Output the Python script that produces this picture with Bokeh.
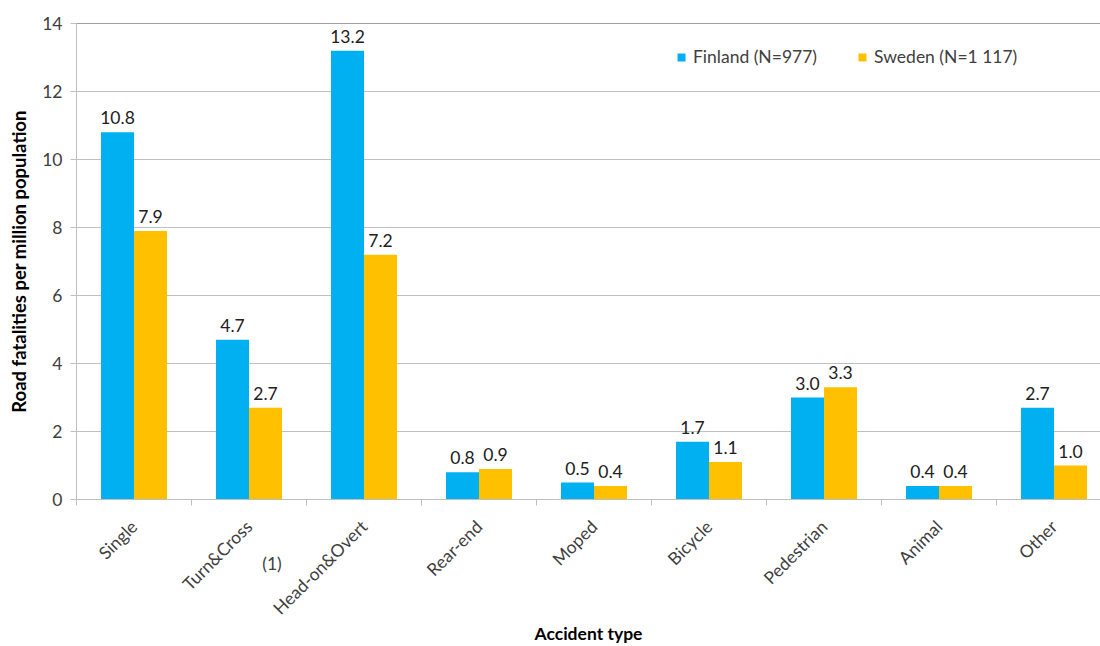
import math
from bokeh.plotting import figure
from bokeh.models import (Range1d, FixedTicker, Span, Legend, LegendItem,
                          LinearAxis, ColumnDataSource)
from bokeh.core.properties import value
from bokeh.embed import file_html
from bokeh.resources import INLINE

# Road fatalities per million population by accident type
categories = ["Single", "Turn&Cross", "Head-on&Overt", "Rear-end", "Moped",
              "Bicycle", "Pedestrian", "Animal", "Other"]
finland = [10.8, 4.7, 13.2, 0.8, 0.5, 1.7, 3.0, 0.4, 2.7]
sweden = [7.9, 2.7, 7.2, 0.9, 0.4, 1.1, 3.3, 0.4, 1.0]
series_names = ["Finland (N=977)", "Sweden (N=1 117)"]
y_ticks = [0, 2, 4, 6, 8, 10, 12, 14]
footnote = "(1)"
footnote_x = 1.7

FONT = "Lato"
BLUE = "#00B0F0"
GOLD = "#FFC000"
TXT = "#404040"
FS = "17.5px"

centers = [i + 0.5 for i in range(len(categories))]
bar_w = 0.287

p = figure(width=1100, height=646, output_backend="svg", toolbar_location=None,
           x_range=Range1d(0, 1024 / 115), y_range=Range1d(0, 14),
           min_border_left=76, min_border_right=0, min_border_top=23,
           min_border_bottom=147)
p.outline_line_color = None
p.background_fill_color = "white"

fin_src = ColumnDataSource(dict(x=[c - bar_w / 2 for c in centers], top=finland,
                                lab=[f"{v:.1f}" for v in finland]))
swe_src = ColumnDataSource(dict(x=[c + bar_w / 2 for c in centers], top=sweden,
                                lab=[f"{v:.1f}" for v in sweden]))

r_fin = p.vbar(x="x", top="top", width=bar_w, source=fin_src, fill_color=BLUE, line_color=None)
r_swe = p.vbar(x="x", top="top", width=bar_w, source=swe_src, fill_color=GOLD, line_color=None)

for src in (fin_src, swe_src):
    p.text(x="x", y="top", text="lab", source=src, y_offset=-8,
           text_align="center", text_baseline="bottom",
           text_font=value(FONT), text_font_size=FS, text_color="#202020")

# top border line of the plot area
p.add_layout(Span(location=14, dimension="width", line_color="#404040", line_width=1))

# grid
p.xgrid.grid_line_color = None
p.ygrid.grid_line_color = "#c0c0c0"
p.ygrid.ticker = FixedTicker(ticks=y_ticks[:-1])

# y axis
p.yaxis.ticker = FixedTicker(ticks=y_ticks)
p.yaxis.axis_line_color = "#bfbfbf"
p.yaxis.major_tick_line_color = "#bfbfbf"
p.yaxis.major_tick_in = 0
p.yaxis.major_tick_out = 6
p.yaxis.minor_tick_line_color = None
p.yaxis.major_label_text_font = FONT
p.yaxis.major_label_text_font_size = FS
p.yaxis.major_label_text_color = TXT
p.yaxis.major_label_standoff = 8
p.yaxis.axis_label = "Road fatalities per million population"
p.yaxis.axis_label_text_font = FONT
p.yaxis.axis_label_text_font_style = "bold"
p.yaxis.axis_label_text_font_size = "18.5px"
p.yaxis.axis_label_text_color = "#000000"
p.yaxis.axis_label_standoff = 9

# x axis: labels at category centres, tick marks between categories
xax = p.xaxis[0]
xax.ticker = FixedTicker(ticks=centers, minor_ticks=list(range(len(categories) + 1)))
xax.major_label_overrides = {c: n for c, n in zip(centers, categories)}
xax.major_label_orientation = math.pi / 4
xax.major_tick_line_color = None
xax.minor_tick_line_color = "#bfbfbf"
xax.minor_tick_in = 0
xax.minor_tick_out = 6
xax.axis_line_color = "#bfbfbf"
xax.major_label_text_font = FONT
xax.major_label_text_font_size = FS
xax.major_label_text_color = TXT
xax.major_label_standoff = 18

# second, line-less axis below: footnote marker and the axis title
note_axis = LinearAxis(ticker=FixedTicker(ticks=[footnote_x]),
                       major_label_overrides={footnote_x: footnote},
                       axis_line_color=None, major_tick_line_color=None,
                       minor_tick_line_color=None, major_tick_out=0, major_tick_in=0,
                       major_label_standoff=-77,
                       major_label_orientation="horizontal",
                       major_label_text_font=FONT, major_label_text_font_size=FS,
                       major_label_text_color=TXT,
                       axis_label="Accident type", axis_label_text_font=FONT,
                       axis_label_text_font_style="bold",
                       axis_label_text_font_size="17.5px",
                       axis_label_text_color="#000000", axis_label_standoff=46)
p.add_layout(note_axis, "below")

legend = Legend(items=[LegendItem(label=series_names[0], renderers=[r_fin]),
                       LegendItem(label=series_names[1], renderers=[r_swe])],
                orientation="horizontal", location=(600, 432),
                glyph_width=10, glyph_height=10, label_standoff=7, spacing=40,
                padding=0, margin=0, border_line_color=None,
                background_fill_alpha=0,
                label_text_font=FONT, label_text_font_size=FS,
                label_text_color=TXT)
p.add_layout(legend)

open("out.html", "w").write(file_html(p, INLINE))
